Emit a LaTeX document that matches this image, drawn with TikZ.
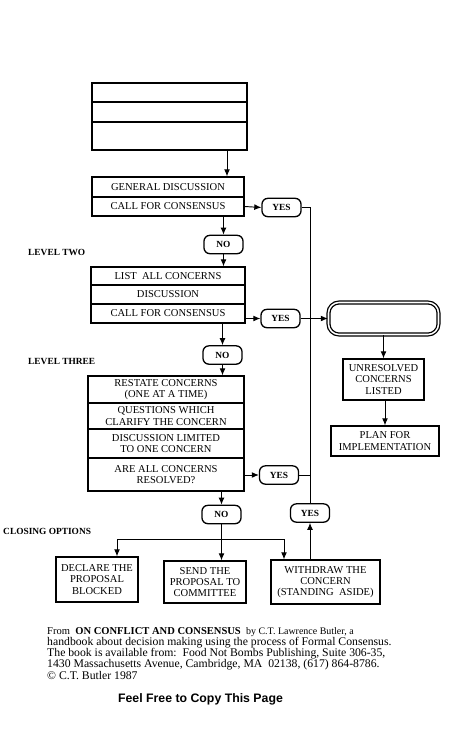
\documentclass[tikz,border=0pt]{standalone}
\usepackage{fontspec}
\setmainfont{Liberation Serif}
\setsansfont{Liberation Sans}
\usetikzlibrary{arrows.meta, calc}

\tikzset{
	rowcell/.style={draw, line width=1.1pt, inner sep=0pt, align=center, font=\fontsize{9}{9.5}\selectfont},
	answer/.style={draw, line width=1.1pt, rounded corners=5pt, inner sep=0pt, minimum width=1.17cm, minimum height=0.55cm, font=\bfseries\fontsize{8}{9}\selectfont},
	stage/.style={anchor=west, inner sep=0pt, font=\bfseries\fontsize{8}{9}\selectfont},
	flow/.style={line width=0.8pt, -{Latex[length=6pt,width=5pt]}},
	link/.style={line width=0.8pt},
}

\begin{document}
\begin{tikzpicture}[x=0.03cm, y=-0.03cm]
		\useasboundingbox (0,0) rectangle (471,732);
		% level one
		\node[rowcell, minimum width=4.65cm, minimum height=0.57cm] (t1) at (169.5,92.5) {};
		\node[rowcell, minimum width=4.65cm, minimum height=0.6cm] (t2) at (169.5,112) {};
		\node[rowcell, minimum width=4.65cm, minimum height=0.84cm] (t3) at (169.5,136) {};
		\node[rowcell, minimum width=4.56cm, minimum height=0.6cm] (a1) at (168,187) {GENERAL DISCUSSION};
		\node[rowcell, minimum width=4.56cm, minimum height=0.57cm] (a2) at (168,206.5) {CALL FOR CONSENSUS};
		\node[answer] (y1) at (281.5,207.5) {YES};
		\node[answer] (n1) at (223.5,244.5) {NO};
		% level two
		\node[stage] (lv2) at (28,252) {LEVEL TWO};
		\node[rowcell, minimum width=4.62cm, minimum height=0.54cm] (b1) at (168,276) {LIST~~ALL CONCERNS};
		\node[rowcell, minimum width=4.62cm, minimum height=0.57cm] (b2) at (168,294.5) {DISCUSSION};
		\node[rowcell, minimum width=4.62cm, minimum height=0.57cm] (b3) at (168,313.5) {CALL FOR CONSENSUS};
		\node[answer] (y2) at (280.5,318.5) {YES};
		\node[answer] (n2) at (222.5,355) {NO};
		\node[draw, line width=1.1pt, double, double distance=1.3pt, rounded corners=9pt, minimum width=3.3cm, minimum height=0.96cm] (res) at (383.5,318.5) {};
		\node[rowcell, minimum width=2.43cm, minimum height=1.23cm] (u) at (383.5,379.5) {UNRESOLVED\\CONCERNS\\LISTED};
		\node[rowcell, minimum width=3.24cm, minimum height=0.9cm] (p) at (385,441) {PLAN FOR\\IMPLEMENTATION};
		% level three
		\node[stage] (lv3) at (28,361) {LEVEL THREE};
		\node[rowcell, minimum width=4.68cm, minimum height=0.81cm] (c1) at (166,389.5) {RESTATE CONCERNS\\(ONE AT A TIME)};
		\node[rowcell, minimum width=4.68cm, minimum height=0.78cm] (c2) at (166,416) {QUESTIONS WHICH\\CLARIFY THE CONCERN};
		\node[rowcell, minimum width=4.68cm, minimum height=0.87cm] (c3) at (166,443.5) {DISCUSSION LIMITED\\TO ONE CONCERN};
		\node[rowcell, minimum width=4.68cm, minimum height=0.99cm] (c4) at (166,474.5) {ARE ALL CONCERNS\\RESOLVED?};
		\node[answer] (y3) at (279,475) {YES};
		\node[answer] (n3) at (221.5,514.5) {NO};
		\node[answer] (y4) at (310,513) {YES};
		% closing options
		\node[stage] (cl) at (3,531) {CLOSING OPTIONS};
		\node[rowcell, minimum width=2.46cm, minimum height=1.35cm] (d) at (97,579.5) {DECLARE THE\\PROPOSAL\\BLOCKED};
		\node[rowcell, minimum width=2.46cm, minimum height=1.26cm] (s) at (205,582) {SEND THE\\PROPOSAL TO\\COMMITTEE};
		\node[rowcell, minimum width=3.27cm, minimum height=1.32cm] (w) at (325.5,582) {WITHDRAW THE\\CONCERN\\(STANDING~~ASIDE)};
		\coordinate (bl) at (117,539);
		\coordinate (bm) at (221.5,539);
		\coordinate (bx) at (284,539);
		% connectors
		\draw[flow] ($(t3.south)+(57.5,0)$) coordinate (tdrop) -- (tdrop |- a1.north);
		\draw[flow] (a2.east) -- (y1.west);
		\draw[flow] (a2.south -| n1) -- (n1.north);
		\draw[flow] (n1.south) -- (n1.south |- b1.north);
		\draw[flow] (b3.east |- y2) -- (y2.west);
		\draw[flow] (y2.east) -- (res.west);
		\draw[flow] (b3.south -| n2) -- (n2.north);
		\draw[flow] (n2.south) -- (n2.south |- c1.north);
		\draw[flow] (c4.east |- y3) -- (y3.west);
		\draw[flow] (c4.south -| n3) -- (n3.north);
		\draw[link] (y1.east) -- (y1.east -| y4) -- (y4.north);
		\draw[link] (y3.east) -- (y3.east -| y4);
		\draw[flow] (res.south -| u) -- (u.north);
		\draw[flow] (u.south -| p) -- (p.north);
		\draw[link] (n3.south) -- (bm);
		\draw[link] (bl) -- (bx);
		\draw[flow] (bl) -- (bl |- d.north);
		\draw[flow] (bm) -- (bm |- s.north);
		\draw[flow] (bx) -- (bx |- w.north);
		\draw[flow] (w.north -| y4) -- (y4.south);
		% source note
		\node[anchor=north west, inner sep=0pt, align=left, font=\fontsize{10}{9.6}\selectfont] (src) at (47,627) {{\fontsize{9}{9.6}\selectfont From~~\textbf{ON CONFLICT AND CONSENSUS}~~{\fontsize{8.5}{9.6}\selectfont by C.T. Lawrence Butler, a}}\\
			handbook about decision making using the process of Formal Consensus.\\
			The book is available from:~~Food Not Bombs Publishing, Suite 306-35,\\
			1430 Massachusetts Avenue, Cambridge, MA~~02138, (617) 864-8786.\\
			\textcopyright{} C.T. Butler 1987};
		\node[inner sep=0pt, font=\sffamily\bfseries\fontsize{10.5}{12}\selectfont] (free) at (200.5,699) {Feel Free to Copy This Page};
\end{tikzpicture}
\end{document}
